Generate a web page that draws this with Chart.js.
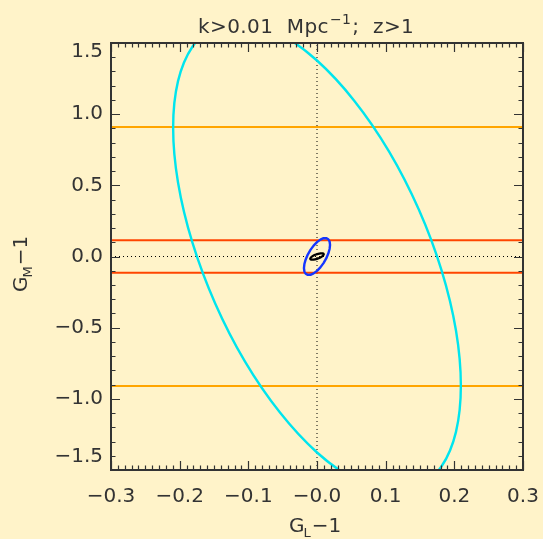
<!DOCTYPE html>
<html>
<head>
<meta charset="utf-8">
<script src="https://cdn.jsdelivr.net/npm/chart.js"></script>
<style>
  body { margin: 0; background: #fff3c9; }
  #wrap { width: 543px; height: 539px; }
</style>
</head>
<body>
<div id="wrap"><canvas id="chart"></canvas></div>
<script>
// axes
const xTicks = [-0.3, -0.2, -0.1, 0, 0.1, 0.2, 0.3];
const xTickLabels = ['\u22120.3', '\u22120.2', '\u22120.1', '\u22120.0', '0.1', '0.2', '0.3'];
const yTicks = [-1.5, -1.0, -0.5, 0, 0.5, 1.0, 1.5];
const yTickLabels = ['\u22121.5', '\u22121.0', '\u22120.5', '0.0', '0.5', '1.0', '1.5'];

// contours (G_L-1, G_M-1)
const cyanL = [-0.1048, -0.1481, -0.1814, -0.2024, -0.2095, -0.2024, -0.1814, -0.1481, -0.1048, -0.0542, 0, 0.0542, 0.1048,
  0.1481, 0.1814, 0.2024, 0.2095, 0.2024, 0.1814, 0.1481, 0.1048, 0.0542, 0, -0.0542, -0.1048];
const cyanM = [1.646, 1.615, 1.474, 1.232, 0.907, 0.520, 0.097, -0.332, -0.739, -1.095, -1.377, -1.565, -1.646,
  -1.615, -1.474, -1.232, -0.907, -0.520, -0.097, 0.332, 0.739, 1.095, 1.377, 1.565, 1.646];

const blueL = [0.0190, 0.01835, 0.01645, 0.01343, 0.0095, 0.00492, 0, -0.00492, -0.0095, -0.01343, -0.01645, -0.01835,
  -0.0190, -0.01835, -0.01645, -0.01343, -0.0095, -0.00492, 0, 0.00492, 0.0095, 0.01343, 0.01645, 0.01835, 0.0190];
const blueM = [0.0819, 0.1052, 0.1214, 0.1293, 0.1284, 0.1188, 0.101, 0.0764, 0.0465, 0.0135, -0.0204, -0.0530,
  -0.0819, -0.1052, -0.1214, -0.1293, -0.1284, -0.1188, -0.101, -0.0764, -0.0465, -0.0135, 0.0204, 0.0530, 0.0819];

const blackL = [0, -0.00495, -0.00857, -0.0099, -0.00857, -0.00495, 0, 0.00495, 0.00857, 0.0099, 0.00857, 0.00495, 0];
const blackM = [0.0164, 0.0064, -0.0053, -0.0156, -0.0217, -0.0220, -0.0164, -0.0064, 0.0053, 0.0156, 0.0217, 0.0220, 0.0164];

// G_M-only bands (flat in G_L)
const bandEnds = [-0.3, 0.3];
const orangeM = [0.91, -0.91];
const redM = [0.115, -0.115];

const ink = '#333';
const family = 'DejaVu Sans';

function pts(xs, ys) {
  return xs.map((x, i) => ({ x: x, y: ys[i] }));
}

function curve(data, color, width, tension) {
  return {
    data: data,
    showLine: true,
    borderColor: color,
    borderWidth: width,
    tension: tension,
    pointRadius: 0,
    borderJoinStyle: 'round',
    borderCapStyle: 'round',
  };
}

let datasets = [
  curve(pts(blackL, blackM), '#000000', 2.2, 0.3),
  curve(pts(blueL, blueM), '#1436ff', 2.4, 0),
  curve(pts(cyanL, cyanM), '#00e5ee', 2.4, 0.34),
];
redM.forEach(m => datasets.push(curve(pts(bandEnds, [m, m]), '#ff4500', 2, 0)));
orangeM.forEach(m => datasets.push(curve(pts(bandEnds, [m, m]), '#ffa500', 2, 0)));

// dotted zero lines
let zeroV = curve(pts([0, 0], [-1.5, 1.5]), '#000000', 1, 0);
zeroV.borderDash = [1, 3];
zeroV.borderCapStyle = 'butt';
let zeroH = curve(pts(bandEnds, [0, 0]), '#000000', 1, 0);
zeroH.borderDash = [1, 3];
zeroH.borderCapStyle = 'butt';
datasets.push(zeroV, zeroH);

// end labels sit inside the frame, like IDL does
function yLabel(v, i) {
  const t = yTickLabels[i];
  if (i === yTickLabels.length - 1) return ['', '', '', '', t];
  if (i === 0) return [t, '', '', '', '', '', ''];
  return t;
}

// IDL style frame with inner ticks
const frame = {
  id: 'frame',
  afterDatasetsDraw(chart) {
    const { ctx, chartArea: a, scales: { x, y } } = chart;
    ctx.save();
    ctx.strokeStyle = ink;
    ctx.lineWidth = 1.2;
    ctx.beginPath();
    for (let i = 0; i <= 60; i++) {
      const px = Math.round(x.getPixelForValue(x.min + i * 0.01)) + 0.5;
      const len = i % 10 === 0 ? 9 : 4.5;
      ctx.moveTo(px, a.bottom); ctx.lineTo(px, a.bottom - len);
      ctx.moveTo(px, a.top); ctx.lineTo(px, a.top + len);
    }
    for (let i = 0; i <= 30; i++) {
      const py = Math.round(y.getPixelForValue(y.min + i * 0.1)) + 0.5;
      const len = i % 5 === 0 ? 9 : 4.5;
      ctx.moveTo(a.left, py); ctx.lineTo(a.left + len, py);
      ctx.moveTo(a.right, py); ctx.lineTo(a.right - len, py);
    }
    ctx.stroke();
    ctx.lineWidth = 2;
    ctx.strokeRect(a.left, a.top, a.right - a.left, a.bottom - a.top);
    ctx.restore();
  },
  afterDraw(chart) {
    const ctx = chart.ctx;
    ctx.save();
    ctx.fillStyle = ink;
    ctx.textBaseline = 'alphabetic';
    ctx.textAlign = 'left';
    ctx.letterSpacing = '0.4px';

    // title: k>0.01 Mpc^-1; z>1
    let tx = 198;
    ctx.font = '20px "' + family + '"';
    ctx.fillText('k>0.01  Mpc', tx, 33);
    tx += ctx.measureText('k>0.01  Mpc').width;
    ctx.font = '14px "' + family + '"';
    ctx.fillText('\u22121', tx + 1, 24);
    tx += ctx.measureText('\u22121').width + 2;
    ctx.font = '20px "' + family + '"';
    ctx.fillText(';  z>1', tx, 33);
    ctx.letterSpacing = '0px';

    // x title: G_L - 1
    let gx = 289;
    ctx.font = '20px "' + family + '"';
    ctx.fillText('G', gx, 532);
    gx += ctx.measureText('G').width;
    ctx.font = '13px "' + family + '"';
    ctx.fillText('L', gx - 1, 537);
    gx += ctx.measureText('L').width;
    ctx.font = '20px "' + family + '"';
    ctx.fillText('\u22121', gx, 532);

    // y title: G_M - 1
    ctx.translate(27, 292);
    ctx.rotate(-Math.PI / 2);
    let gy = 0;
    ctx.font = '20px "' + family + '"';
    ctx.fillText('G', gy, 0);
    gy += ctx.measureText('G').width;
    ctx.font = '13px "' + family + '"';
    ctx.fillText('M', gy - 1, 5);
    gy += ctx.measureText('M').width;
    ctx.font = '20px "' + family + '"';
    ctx.fillText('\u22121', gy, 0);
    ctx.restore();
  }
};

new Chart(document.getElementById('chart'), {
  type: 'scatter',
  data: { datasets: datasets },
  options: {
    responsive: true,
    maintainAspectRatio: false,
    animation: false,
    layout: { padding: { top: 43, right: 20, left: 0, bottom: 0 } },
    plugins: {
      legend: { display: false },
      tooltip: { enabled: false },
      title: { display: false }
    },
    scales: {
      x: {
        type: 'linear',
        min: -0.3,
        max: 0.3,
        grid: { display: false, drawTicks: false },
        border: { display: false },
        afterBuildTicks: s => { s.ticks = xTicks.map(v => ({ value: v })) },
        afterFit: s => { s.height = 69; s.paddingLeft = 0; s.paddingRight = 0 },
        ticks: {
          callback: (v, i) => xTickLabels[i],
          font: { family: family, size: 20 },
          color: ink,
          padding: 15,
          maxRotation: 0,
          autoSkip: false
        }
      },
      y: {
        type: 'linear',
        min: -1.5,
        max: 1.5,
        grid: { display: false, drawTicks: false },
        border: { display: false },
        afterBuildTicks: s => { s.ticks = yTicks.map(v => ({ value: v })) },
        afterFit: s => { s.width = 111; s.paddingTop = 0; s.paddingBottom = 0 },
        ticks: {
          callback: yLabel,
          font: { family: family, size: 20, lineHeight: 0.215 },
          color: ink,
          padding: 8,
          autoSkip: false
        }
      }
    }
  },
  plugins: [frame]
});
</script>
</body>
</html>
